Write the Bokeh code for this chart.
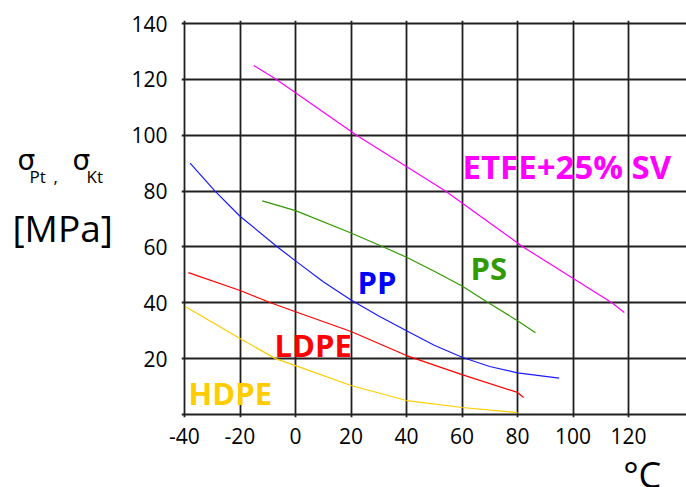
from bokeh.plotting import figure
from bokeh.models import Range1d, FixedTicker, Label, Grid
from bokeh.layouts import row, column
from bokeh.embed import file_html
from bokeh.resources import INLINE

# ---- data ----
etfe_t = [-15, -7, 22, 54, 82, 114, 118.5]
etfe_s = [125, 120, 100, 80, 60, 40, 36.5]

pp_t = [-38, -29, -20, -6.5, 0, 10, 20, 30, 40, 50, 60, 70, 80, 95]
pp_s = [90, 80, 71, 60, 55, 47.5, 41, 35.3, 30, 24.8, 20.5, 17.2, 14.9, 13]

ps_t = [-12, 0, 20, 31.7, 40, 50, 60, 69.5, 80, 86.5]
ps_s = [76.5, 73, 65, 60, 56.3, 51.3, 46, 40, 33.6, 29.3]

ldpe_t = [-38.6, -20, -9, 0, 20, 40, 60, 80, 82.2]
ldpe_s = [50.8, 44.4, 40, 36.8, 29.7, 21.1, 14.3, 7.9, 6.1]

hdpe_t = [-39.6, -20, -7.2, 0, 20, 40, 60, 80]
hdpe_s = [38.6, 27.2, 20, 17.5, 10.4, 5, 2.5, 0.7]

series_names = ["ETFE+25% SV", "PP", "PS", "LDPE", "HDPE"]
series_colors = ["#FF00FF", "#0000FF", "#339900", "#FF0000", "#FFCC00"]
line_colors = ["#FF00FF", "#1a1aff", "#339900", "#FF0000", "#FFCC00"]

x_ticks = [-40, -20, 0, 20, 40, 60, 80, 100, 120]
y_ticks = [20, 40, 60, 80, 100, 120, 140]
y_grid = [0] + y_ticks
X0, X1, Y0, Y1 = -40, 120, 0, 140

# ---- layout geometry (pixels of the whole 686x487 page) ----
PAGE_W, PAGE_H = 686, 487
LEFT_W = 120                      # strip holding the y title
BOX_L, BOX_R, BOX_T, BOX_B = 184, 628, 23, 414   # the plotted box
PAD = 3
MAIN_H = 455
FR_L, FR_T, FR_B = BOX_L - PAD, BOX_T - PAD, BOX_B + PAD
MAIN_W = PAGE_W - LEFT_W

sx = (X1 - X0) / (BOX_R - BOX_L)
sy = (Y1 - Y0) / (BOX_B - BOX_T)
x_start = X0 - (BOX_L - FR_L) * sx
x_end = X1 + (PAGE_W - BOX_R) * sx
y_start = Y0 - (FR_B - BOX_B) * sy
y_end = Y1 + (BOX_T - FR_T) * sy

p = figure(width=MAIN_W, height=MAIN_H, output_backend="svg", toolbar_location=None,
           x_range=Range1d(x_start, x_end), y_range=Range1d(y_start, y_end),
           min_border_left=FR_L - LEFT_W, min_border_right=0,
           min_border_top=FR_T, min_border_bottom=MAIN_H - FR_B)
p.background_fill_color = "white"
p.border_fill_color = "white"
p.outline_line_color = None
p.xgrid.visible = False
p.ygrid.visible = False

for ax in (p.xaxis[0], p.yaxis[0]):
    ax.axis_line_color = None
    ax.major_tick_line_color = None
    ax.minor_tick_line_color = None
    ax.major_tick_out = 0
    ax.major_tick_in = 0
    ax.major_label_text_font = "Open Sans"
    ax.major_label_text_font_size = "21px"
    ax.major_label_text_color = "black"
p.xaxis.ticker = FixedTicker(ticks=x_ticks)
p.yaxis.ticker = FixedTicker(ticks=y_ticks)
p.xaxis.major_label_overrides = {t: str(t) for t in x_ticks}
p.yaxis.major_label_overrides = {t: str(t) for t in y_ticks}
p.xaxis.major_label_standoff = 10
p.yaxis.major_label_standoff = 14

gx = Grid(dimension=0, ticker=FixedTicker(ticks=x_ticks), bounds=(Y0, Y1),
          grid_line_color="#202020", grid_line_width=1.8)
gy = Grid(dimension=1, ticker=FixedTicker(ticks=y_grid), bounds=(X0, X1),
          grid_line_color="#202020", grid_line_width=1.8)
p.add_layout(gx)
p.add_layout(gy)

all_t = [etfe_t, pp_t, ps_t, ldpe_t, hdpe_t]
all_s = [etfe_s, pp_s, ps_s, ldpe_s, hdpe_s]
for xs, ys, c in zip(all_t, all_s, line_colors):
    p.line(xs, ys, line_color=c, line_width=1.2)


def px2x(px):
    return X0 + (px - BOX_L) * sx


def px2y(py):
    return Y0 + (BOX_B - py) * sy


# series names: (left px, vertical centre px) on the page
name_pos = [(462, 166), (357, 281), (470, 267), (274, 344), (188, 392)]
name_size = ["33px", "31px", "31px", "31px", "31px"]
for name, col, (lx, ly), fs in zip(series_names, series_colors, name_pos, name_size):
    p.add_layout(Label(x=px2x(lx), y=px2y(ly), text=name, text_font="Open Sans",
                       text_font_size=fs, text_font_style="bold", text_color=col,
                       text_baseline="alphabetic", text_align="left"))

# ---- left strip: y title ----
left = figure(width=LEFT_W, height=PAGE_H, output_backend="svg", toolbar_location=None,
              x_range=Range1d(0, LEFT_W), y_range=Range1d(0, PAGE_H),
              x_axis_type=None, y_axis_type=None, min_border=0)
left.outline_line_color = None
left.xgrid.visible = False
left.ygrid.visible = False
left.background_fill_color = "white"
left.border_fill_color = "white"


def ltext(fig, text, px, py, size, font="Open Sans", x_off=0, h=PAGE_H, y_off=0):
    fig.add_layout(Label(x=px - x_off, y=h - (py - y_off), text=text, text_font=font,
                         text_font_size=size, text_color="black",
                         text_baseline="alphabetic", text_align="left"))


ltext(left, "σ", 17, 160, "28px", font="DejaVu Sans")
ltext(left, "Pt", 29, 176, "17px")
ltext(left, ",", 53, 176, "17px")
ltext(left, "σ", 72, 160, "28px", font="DejaVu Sans")
ltext(left, "Kt", 86, 176, "17px")
ltext(left, "[MPa]", 12, 227, "37px")

# ---- bottom strip: x unit ----
STRIP_H = PAGE_H - MAIN_H
bot = figure(width=MAIN_W, height=STRIP_H, output_backend="svg", toolbar_location=None,
             x_range=Range1d(0, MAIN_W), y_range=Range1d(0, STRIP_H),
             x_axis_type=None, y_axis_type=None, min_border=0)
bot.outline_line_color = None
bot.xgrid.visible = False
bot.ygrid.visible = False
bot.background_fill_color = "white"
bot.border_fill_color = "white"
ltext(bot, "°C", 615, 474, "36px", x_off=LEFT_W, h=STRIP_H, y_off=MAIN_H)

layout = row(left, column(p, bot, spacing=0), spacing=0)
open("out.html", "w").write(file_html(layout, INLINE))
